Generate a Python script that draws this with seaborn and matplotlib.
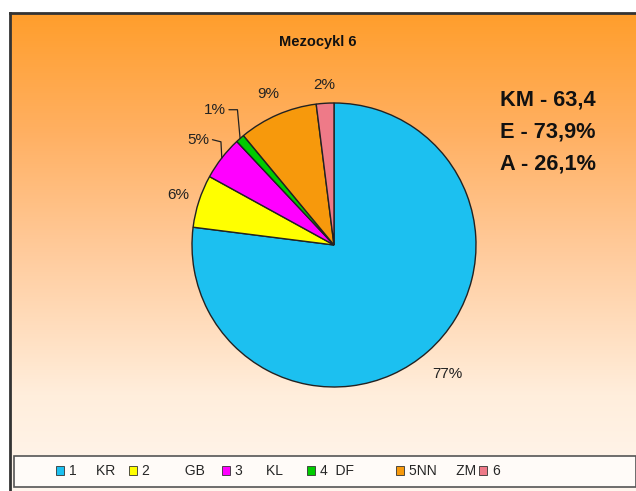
import numpy as np
import matplotlib
matplotlib.use("Agg")
import matplotlib.pyplot as plt
from matplotlib.colors import LinearSegmentedColormap
from matplotlib.patches import Rectangle
import seaborn as sns

sns.set_theme(style="white")
plt.rcParams["font.family"] = ["Liberation Sans", "DejaVu Sans"]

# Data
categories = ["1     KR", "2         GB", "3      KL", "4  DF", "5NN     ZM", "6"]
shares = [77, 6, 5, 1, 9, 2]
pct_labels = ["77%", "6%", "5%", "1%", "9%", "2%"]
colors = ["#1CC0F0", "#FFFF00", "#FF00FF", "#00CC00", "#F7990C", "#EE7A88"]
title = "Mezocykl 6"
summary = ["KM - 63,4", "E - 73,9%", "A - 26,1%"]

W, H = 636, 491
fig = plt.figure(figsize=(W / 100, H / 100), dpi=100)
fig.patch.set_facecolor("white")

# Framed chart area with an orange-to-cream vertical gradient
bg = fig.add_axes([10 / W, 0, 1 - 10 / W, (H - 13) / H])
grad_cmap = LinearSegmentedColormap.from_list(
    "bg", [(0.0, "#FFF6EE"), (0.2, "#FFEEDC"), (0.5, "#FFCB9C"),
           (0.75, "#FFB062"), (1.0, "#FF9E2C")])
grad = np.linspace(0, 1, 256).reshape(-1, 1)
bg.imshow(grad, aspect="auto", cmap=grad_cmap, origin="lower",
          extent=[0, 1, 0, 1])
bg.set_xlim(0, 1)
bg.set_ylim(0, 1)
bg.set_xticks([])
bg.set_yticks([])
for side in ["top", "left"]:
    bg.spines[side].set_color("#333333")
    bg.spines[side].set_linewidth(2)
for side in ["right", "bottom"]:
    bg.spines[side].set_visible(False)

fig.text(318 / W, 1 - 42 / H, title, ha="center", va="center",
         fontsize=10.5, fontweight="bold", color="#111111")

for i, line in enumerate(summary):
    fig.text(500 / W, 1 - (100 + 32 * i) / H, line, ha="left", va="center",
             fontsize=15.7, fontweight="bold", color="#111111")

# Pie
cx, cy, r = 334, 245, 142
ax = fig.add_axes([(cx - r) / W, (H - cy - r) / H, 2 * r / W, 2 * r / H])
wedges, _ = ax.pie(shares, colors=colors, startangle=90, counterclock=False,
                   wedgeprops=dict(edgecolor="#222222", linewidth=1.0))
ax.set_xlim(-1, 1)
ax.set_ylim(-1, 1)
ax.set_aspect("auto")
ax.axis("off")

# Percentage labels around the pie, with leader lines for the thin slices
label_dist = [1.21, 1.15, 1.21, 1.27, 1.16, 1.13]
total = float(sum(shares))
start = 90.0
for lab, d, s in zip(pct_labels, label_dist, shares):
    mid = np.deg2rad(start - 360 * s / total / 2)
    start -= 360 * s / total
    tx, ty = d * np.cos(mid), d * np.sin(mid)
    if lab in ("5%", "1%"):
        ex, ey = np.cos(mid), np.sin(mid)
        x0 = tx + 0.10
        if lab == "5%":
            xs, ys = [x0, tx + 0.16, ex], [ty, ty - 0.015, ey]
        else:
            xs, ys = [x0, tx + 0.16, ex], [ty, ty, ey]
        ax.plot(xs, ys, color="#222222", lw=0.9, clip_on=False)
    ax.text(tx, ty, lab, ha="center", va="center", fontsize=11,
            color="#222222")

# Legend strip along the bottom
fig.patches.append(Rectangle((14 / W, 4 / H), (W - 14) / W, 31 / H,
                             transform=fig.transFigure, facecolor="#FFFBF8",
                             edgecolor="#555555", linewidth=1.2, zorder=5))
entry_x = [56, 129, 222, 307, 396, 479]
for w, name, x in zip(wedges, categories, entry_x):
    leg = fig.legend([w], [name], loc="center left",
                     bbox_to_anchor=(x / W, 20 / H), frameon=False,
                     fontsize=10, handlelength=0.6, handleheight=0.6,
                     handletextpad=0.35, borderpad=0, borderaxespad=0)
    leg.set_zorder(6)
    for h in leg.legend_handles:
        h.set_edgecolor("#333333")
        h.set_linewidth(0.6)

fig.savefig("out.png", dpi=100)
